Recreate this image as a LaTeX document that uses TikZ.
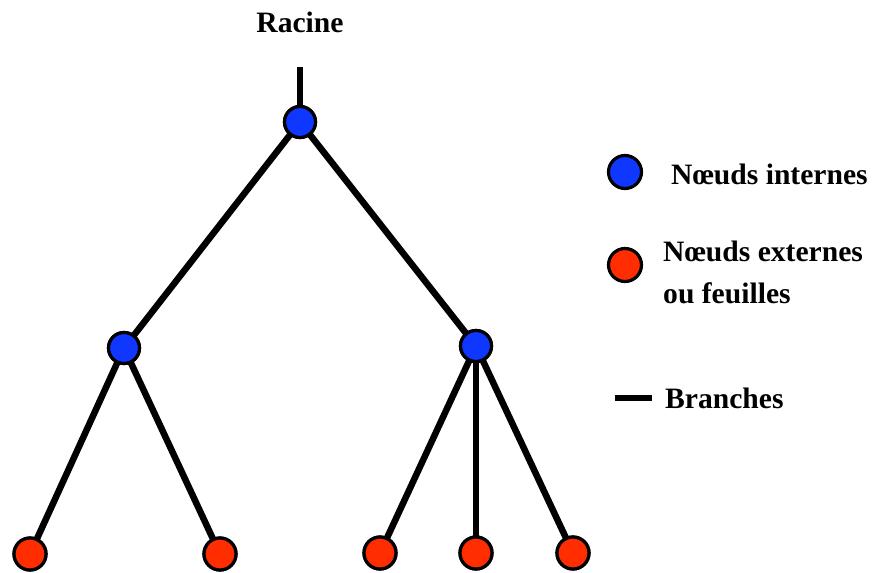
\documentclass[tikz,border=0pt]{standalone}
\usepackage{fontspec}
\setmainfont{Liberation Serif}
\definecolor{nblue}{RGB}{15,55,255}
\definecolor{nred}{RGB}{255,45,0}
\tikzset{
  inode/.style={circle,draw=black,line width=3.2pt,fill=nblue,minimum size=31pt,inner sep=0pt},
  enode/.style={circle,draw=black,line width=3.2pt,fill=nred,minimum size=32pt,inner sep=0pt},
  branch/.style={line width=6.5pt,draw=black},
  lbl/.style={font=\fontsize{29.6}{36}\selectfont\bfseries,inner sep=0pt}
}
\begin{document}
\begin{tikzpicture}[x=1pt,y=-1pt]
\useasboundingbox (0,0) rectangle (876,573);
% nodes
\node[lbl] (racine) at (300,22) {Racine};
\coordinate (top) at (300,67);
\node[inode] (r) at (300,122) {};
\node[inode] (a) at (124,348) {};
\node[inode] (b) at (476,346) {};
\node[enode] (l1) at (30,554) {};
\node[enode] (l2) at (220,554) {};
\node[enode] (l3) at (380,553) {};
\node[enode] (l4) at (476,553) {};
\node[enode] (l5) at (573,553) {};
% branches
\draw[branch] (top) -- (r.center);
\draw[branch] (r.center) -- (a.center);
\draw[branch] (r.center) -- (b.center);
\draw[branch] (a.center) -- (l1.center);
\draw[branch] (a.center) -- (l2.center);
\draw[branch] (b.center) -- (l3.center);
\draw[branch] (b.center) -- (l4.center);
\draw[branch] (b.center) -- (l5.center);
% redraw nodes on top
\node[inode] at (r) {};
\node[inode] at (a) {};
\node[inode] at (b) {};
\node[enode] at (l1) {};
\node[enode] at (l2) {};
\node[enode] at (l3) {};
\node[enode] at (l4) {};
\node[enode] at (l5) {};
% legend
\node[inode,minimum size=33pt] (leg1) at (625,172) {};
\node[lbl,anchor=base west] (t1) at (671,184) {Nœuds internes};
\node[enode,minimum size=33pt] (leg2) at (625,265) {};
\node[lbl,anchor=base west] (t2) at (663,261) {Nœuds externes};
\node[lbl,anchor=base west] (t3) at (663,303) {ou feuilles};
\coordinate (bl) at (615,398);
\coordinate (br) at (652,398);
\draw[branch] (bl) -- (br);
\node[lbl,anchor=base west] (t4) at (665,408) {Branches};
\end{tikzpicture}
\end{document}
